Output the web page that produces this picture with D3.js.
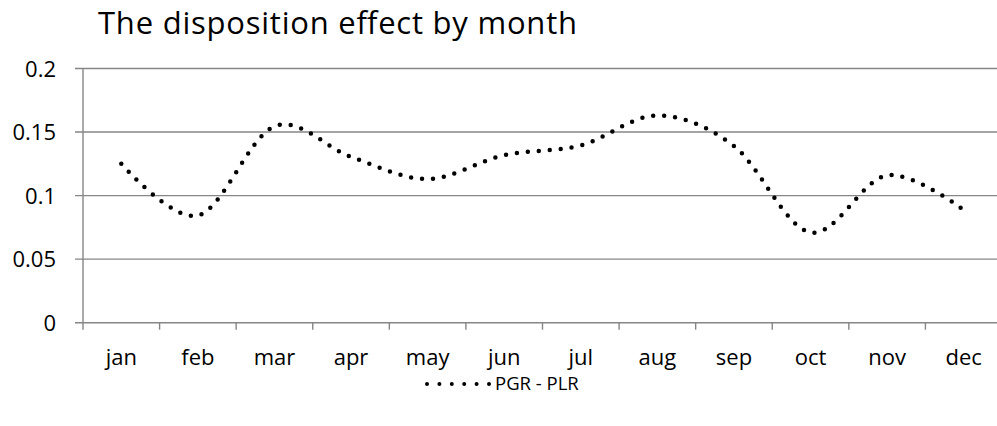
<!DOCTYPE html>
<html>
<head>
    <script src="https://d3js.org/d3.v7.min.js"></script>
    <style>
        body, html { margin: 0; background: #fff; overflow: hidden; }
        text { font-family: "Open Sans", Lato, sans-serif; fill: #000; }
    </style>
</head>
<body>
<div id="chart"></div>
<script>
    const months = ["jan", "feb", "mar", "apr", "may", "jun", "jul", "aug", "sep", "oct", "nov", "dec"];
    const pgrMinusPlr = [0.125, 0.0843, 0.1545, 0.1305, 0.1131, 0.1318, 0.1395, 0.163, 0.139, 0.071, 0.116, 0.0887];
    const yTicks = [0, 0.05, 0.1, 0.15, 0.2];
    const seriesName = "PGR - PLR";

    const width = 997, height = 426;
    const plotLeft = 83, plotRight = 1002, plotTop = 68.5, plotBottom = 322.7;
    const grey = "#868686";

    const svg = d3.select("#chart").append("svg")
        .attr("width", width)
        .attr("height", height);

    const x = d3.scaleBand().domain(months).range([plotLeft, plotRight]);
    const y = d3.scaleLinear().domain([0, 0.2]).range([plotBottom, plotTop]);

    // title
    svg.append("text")
        .attr("x", 98).attr("y", 34)
        .attr("textLength", 479)
        .attr("lengthAdjust", "spacing")
        .style("font-size", "31px")
        .text("The disposition effect by month");

    // horizontal gridlines (also the axis at 0)
    svg.append("g")
        .selectAll("line")
        .data(yTicks)
        .join("line")
        .attr("x1", plotLeft - 8).attr("x2", width)
        .attr("y1", d => y(d)).attr("y2", d => y(d))
        .attr("stroke", grey).attr("stroke-width", 1.4);

    // y axis line
    svg.append("line")
        .attr("x1", plotLeft).attr("x2", plotLeft)
        .attr("y1", plotTop).attr("y2", plotBottom + 7)
        .attr("stroke", grey).attr("stroke-width", 1.4);

    // y labels
    svg.append("g")
        .selectAll("text")
        .data(yTicks)
        .join("text")
        .attr("x", 56)
        .attr("y", d => y(d) + 8)
        .attr("text-anchor", "end")
        .style("font-size", "22px")
        .text(d => d);

    // x ticks at band edges
    svg.append("g")
        .selectAll("line")
        .data(months.slice(1))
        .join("line")
        .attr("x1", d => x(d)).attr("x2", d => x(d))
        .attr("y1", plotBottom).attr("y2", plotBottom + 7)
        .attr("stroke", grey).attr("stroke-width", 1.4);

    // x labels
    svg.append("g")
        .selectAll("text")
        .data(months)
        .join("text")
        .attr("x", d => x(d) + x.bandwidth() / 2)
        .attr("y", 365)
        .attr("text-anchor", "middle")
        .style("font-size", "22px")
        .text(d => d);

    // smoothed dotted series
    const line = d3.line()
        .x((d, i) => x(months[i]) + x.bandwidth() / 2)
        .y(d => y(d))
        .curve(d3.curveCardinal.tension(0));

    svg.append("path")
        .datum(pgrMinusPlr)
        .attr("d", line)
        .attr("fill", "none")
        .attr("stroke", "#000")
        .attr("stroke-width", 4.5)
        .attr("stroke-linecap", "round")
        .attr("stroke-dasharray", "0 11");

    // legend
    svg.append("line")
        .attr("x1", 427).attr("x2", 489)
        .attr("y1", 384).attr("y2", 384)
        .attr("stroke", "#000")
        .attr("stroke-width", 4)
        .attr("stroke-linecap", "round")
        .attr("stroke-dasharray", "0 12.4");

    svg.append("text")
        .attr("x", 495).attr("y", 390)
        .style("font-size", "18.5px")
        .text(seriesName);
</script>
</body>
</html>
